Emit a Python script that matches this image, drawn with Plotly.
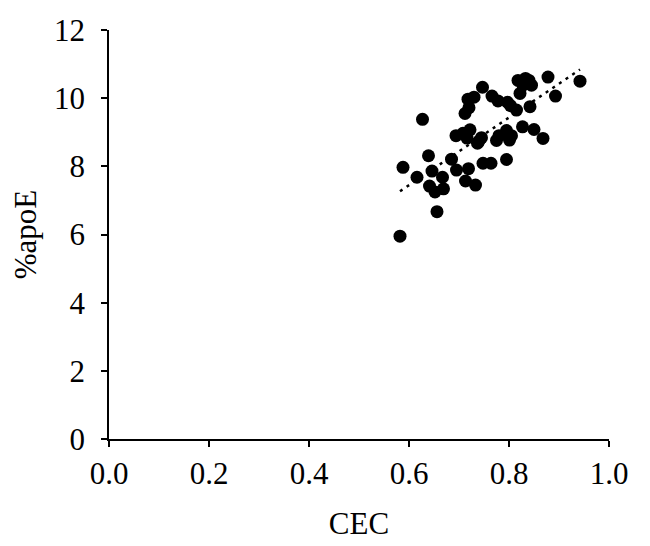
"""
%apoE against CEC scatter with a linear trend (dotted).
"""

import numpy as np
import plotly.graph_objects as go

# ── Data ──────────────────────────────────────────────────────────────────────
CEC = [
    0.582, 0.656, 0.588, 0.616, 0.627, 0.639, 0.646, 0.641, 0.652, 0.667,
    0.669, 0.685, 0.695, 0.719, 0.713, 0.733, 0.748, 0.764, 0.795,
    0.694, 0.708, 0.722, 0.716, 0.737, 0.745, 0.740, 0.775, 0.780, 0.795,
    0.801, 0.805, 0.827, 0.850, 0.868,
    0.747, 0.718, 0.730, 0.712, 0.720, 0.766, 0.778, 0.797, 0.803, 0.815,
    0.822, 0.828, 0.818, 0.833, 0.840, 0.845, 0.842, 0.878, 0.893, 0.942,
]
APOE = [
    5.95, 6.67, 7.97, 7.68, 9.38, 8.31, 7.86, 7.42, 7.25, 7.68,
    7.34, 8.21, 7.89, 7.93, 7.57, 7.45, 8.09, 8.09, 8.20,
    8.90, 8.97, 9.07, 8.83, 8.68, 8.84, 8.74, 8.76, 8.90, 9.05,
    8.77, 8.90, 9.16, 9.08, 8.82,
    10.32, 9.97, 10.03, 9.55, 9.72, 10.06, 9.92, 9.88, 9.78, 9.65,
    10.14, 10.38, 10.52, 10.58, 10.52, 10.38, 9.75, 10.62, 10.06, 10.50,
]

X_TICKS = [0.0, 0.2, 0.4, 0.6, 0.8, 1.0]
Y_TICKS = [0, 2, 4, 6, 8, 10, 12]

# ── Linear trend ──────────────────────────────────────────────────────────────
slope, intercept = np.polyfit(CEC, APOE, 1)
trend_x = [min(CEC), max(CEC)]
trend_y = [slope * v + intercept for v in trend_x]

FONT = "Times New Roman, Liberation Serif, serif"

fig = go.Figure()

fig.add_trace(go.Scatter(
    x=CEC, y=APOE,
    mode="markers",
    marker=dict(color="black", size=13),
    showlegend=False,
))

fig.add_trace(go.Scatter(
    x=trend_x, y=trend_y,
    mode="lines",
    line=dict(color="black", width=2.5, dash="3px,5px"),
    showlegend=False,
))

axis_common = dict(
    showgrid=False, zeroline=False, automargin=False,
    showline=True, linecolor="black", linewidth=1.6,
    ticks="outside", ticklen=6, tickwidth=1.6, tickcolor="black",
    tickfont=dict(family=FONT, size=31, color="black"),
    title_font=dict(family=FONT, size=31, color="black"),
)

# page body adds an 8px offset, so margins are shifted to compensate
fig.update_layout(
    width=650, height=546,
    paper_bgcolor="white", plot_bgcolor="white",
    margin=dict(l=101, r=49, t=22, b=115),
    font=dict(family=FONT, color="black"),
    xaxis=dict(
        range=[0, 1], tickvals=X_TICKS,
        ticktext=[f"{v:.1f}" for v in X_TICKS],
        title=dict(text="CEC", standoff=22),
        **axis_common,
    ),
    yaxis=dict(
        range=[0, 12], tickvals=Y_TICKS,
        ticklabelstandoff=10,
        title=dict(text="%apoE", standoff=8),
        **axis_common,
    ),
)

fig.write_html("out.html")
